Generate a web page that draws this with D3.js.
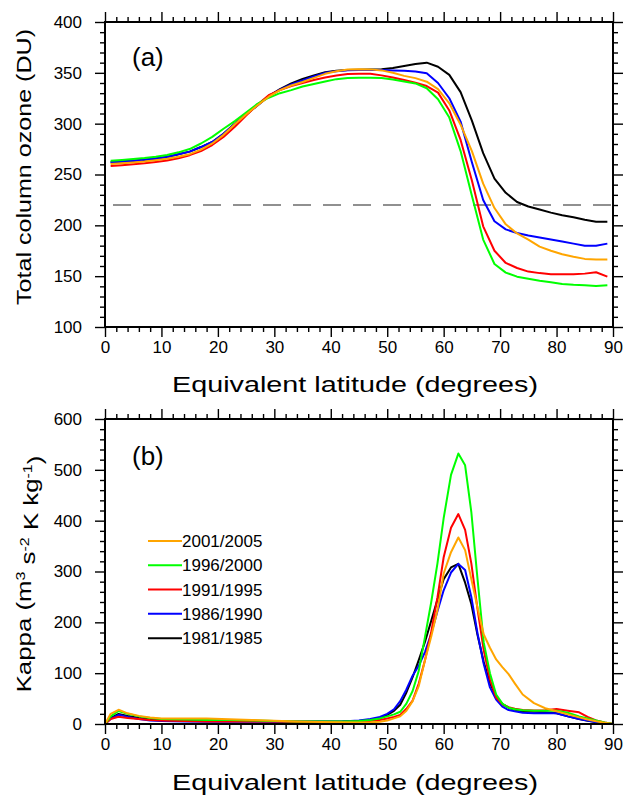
<!DOCTYPE html>
<html><head><meta charset="utf-8">
<script src="https://cdn.jsdelivr.net/npm/d3@7"></script>
<style>
body{margin:0;background:#fff}
svg{display:block}
text{font-family:"Liberation Sans",Arial,Helvetica,sans-serif;fill:#000}
</style>
</head><body>
<svg id="c" width="625" height="799"></svg>
<script>
// ---------- data ----------
const latA = [1,3,5,7,9,11,13,15,17,19,21,23,25,27,29,31,33,35,37,39,41,43,45,47,49,51,53,55,57,59,61,63,65,67,69,71,73,75,77,79,81,83,85,87,89];
const ozone1981 = [262,262.8,263.6,264.5,265.8,267.3,270,272.5,277,282,290,300,309,318,327,334,339.5,344,347.5,350.5,352,352.8,353,353.2,353.5,354.8,356.8,358.7,360,356,348,331,303,271,246,232,223,218.5,215.5,212.5,210,208,205.5,203.6,203.6];
const ozone1986 = [262,262.8,263.6,264.5,265.8,267.3,270,272.5,277,282,290,300,309,318,327,333.5,338.5,342.5,346.5,350,351.5,352.6,352.8,352.8,352.8,352.4,352,351.2,349.5,340,325,302,262,225,204,196,192.5,190,188,186,184,182,180,180,182];
const ozone1991 = [258.4,259.2,260,261,262.3,263.8,266,269,273,279,287,297,308,318.5,328,333,337,340,343,345.5,347.3,348.8,349,349,347.5,345.5,343,340.3,337,330.5,313,284,244,199,175,163,158,154.5,153,152,151.8,152,152.5,153.8,149.5];
const ozone1996 = [263.5,264.3,265.2,266.2,267.5,269.2,271.8,275,280.5,287,295,302.5,311,319.5,325.5,330,333,336.5,339,341.5,343.8,345,345.2,345.2,345,343.5,341.5,339.6,334.8,324,306,273,229,186,162,153.5,149.5,147.5,145.6,144,142.3,141.5,141,140.3,141];
const ozone2001 = [260.3,261,261.8,262.7,264,265.5,267.5,270,274.5,280.5,289,299.5,309,318,326.5,333,337.5,341,345,349,351.5,353.2,353.5,353.4,352.4,350,347,344.8,341.3,334,320,299,273,241,217,201,192,186,179,175,171.5,169,167,166.5,166.5];
const ozoneThreshold = 220;

const latB = [0,1,2.4,4,6,8,10,14,18,22,26,30,34,38,42,45,47,48.7,50,51.2,52.3,53.4,54.5,55.6,56.7,57.8,58.9,60.0,61.3,62.6,63.8,64.9,66.0,67.1,68.2,69.3,70.4,71.5,72.6,74,76,78,80,82,84,85.5,87,88.5,90];
const kappa2001 = [0,20,28,21,16,13,11,11,11,9.5,8,6.5,5,4,3.5,3,3.5,4.5,7,11,15,26,45,75,126,172,224,296,338,367,342,285,229,176,150,127,112,98,80,58,41,31,25,19,13,9,5.5,2.5,0];
const kappa1996 = [0,15,25.6,20,15,12,10,9,8,8,7,6,5,5,5,6,8,11,15,19,24,40,65,105,172,240,316,405,490,532,509,417,285,160,100,58,40,32,29,27,26,26,26,22,15,11,7,3,0];
const kappa1991 = [0,10,14.4,12,10,8,7,6,5,5,5,5,4,4,4,5,6,8,11,14,18,30,46,80,126,181,249,328,386,413,382,316,226,145,88,52,39,33,30,27.5,26.5,27,29.5,26,23,14,7,3,0];
const kappa1986 = [0,10,18,14,10,7,6,5,4.5,4.5,4.5,4.5,4.5,4.5,5,7,10,14,20,29,45,68,95,115,142,178,222,263,298,315,303,250,178,118,72,48,34,27.5,25,22,21,21,21,15,10,7,3.5,1.5,0];
const kappa1981 = [0,12,19.7,16,12,9,8,7,6,6,6,5,5,5,5,6,8,11,18,26,38,62,92,126,162,203,245,285,308,315,278,236,175,122,80,55,39,32,28,24.5,24,23,21,15,10,6.5,4,1.5,0];

const seriesNames = ["2001/2005","1996/2000","1991/1995","1986/1990","1981/1985"];
const seriesColors = ["#FFA500","#00FF00","#FF0000","#0000FF","#000000"];

const xTicks = [0,10,20,30,40,50,60,70,80,90];
const xMinor = [2,4,6,8,12,14,16,18,22,24,26,28,32,34,36,38,42,44,46,48,52,54,56,58,62,64,66,68,72,74,76,78,82,84,86,88];
const yTicksA = [100,150,200,250,300,350,400];
const yMinorA = [110,120,130,140,160,170,180,190,210,220,230,240,260,270,280,290,310,320,330,340,360,370,380,390];
const yTicksB = [0,100,200,300,400,500,600];
const yMinorB = [20,40,60,80,120,140,160,180,220,240,260,280,320,340,360,380,420,440,460,480,520,540,560,580];

// ---------- drawing ----------
const svg = d3.select("#c");
const L = 105, R = 613;
const x = d3.scaleLinear().domain([0,90]).range([L,R]);

function axes(y, top, bottom, yMaj, yMin) {
  const g = svg.append("g");
  const style = sel => { sel.select(".domain").remove(); sel.selectAll("line").attr("stroke","#000").attr("stroke-width",1.4); sel.selectAll("text").style("font-size","17px").style("font-family",'"Liberation Sans",Arial,sans-serif'); };
  g.append("g").attr("transform",`translate(0,${bottom})`).call(d3.axisBottom(x).tickValues(xTicks).tickSize(10).tickPadding(4).tickFormat(d3.format("d"))).call(style);
  g.append("g").attr("transform",`translate(0,${bottom})`).call(d3.axisBottom(x).tickValues(xMinor).tickSize(5).tickFormat("")).call(style);
  g.append("g").attr("transform",`translate(0,${top})`).call(d3.axisTop(x).tickValues(xTicks).tickSize(10).tickFormat("")).call(style);
  g.append("g").attr("transform",`translate(0,${top})`).call(d3.axisTop(x).tickValues(xMinor).tickSize(5).tickFormat("")).call(style);
  g.append("g").attr("transform",`translate(${L},0)`).call(d3.axisLeft(y).tickValues(yMaj).tickSize(10).tickPadding(13).tickFormat(d3.format("d"))).call(style);
  g.append("g").attr("transform",`translate(${L},0)`).call(d3.axisLeft(y).tickValues(yMin).tickSize(5).tickFormat("")).call(style);
  g.append("g").attr("transform",`translate(${R},0)`).call(d3.axisRight(y).tickValues(yMaj).tickSize(10).tickFormat("")).call(style);
  g.append("g").attr("transform",`translate(${R},0)`).call(d3.axisRight(y).tickValues(yMin).tickSize(5).tickFormat("")).call(style);
}

function frame(top,bottom){
  svg.append("rect").attr("x",L).attr("y",top).attr("width",R-L).attr("height",bottom-top)
    .attr("fill","none").attr("stroke","#000").attr("stroke-width",2);
}

function lines(lat, seriesList, y) {
  const line = d3.line().x((d,i)=>x(lat[i])).y(d=>y(d));
  [4,3,2,1,0].forEach(k=>{
    svg.append("path").datum(seriesList[k]).attr("d",line)
      .attr("fill","none").attr("stroke",seriesColors[k]).attr("stroke-width",2).attr("stroke-linejoin","round");
  });
}

// Panel (a)
const topA = 22, botA = 327;
const yA = d3.scaleLinear().domain([100,400]).range([botA,topA]);
svg.append("line").attr("x1",x(0)).attr("x2",x(90)).attr("y1",yA(ozoneThreshold)).attr("y2",yA(ozoneThreshold))
  .attr("stroke","#222").attr("stroke-width",1.1).attr("stroke-dasharray","18,12").attr("stroke-dashoffset",-8);
lines(latA,[ozone2001,ozone1996,ozone1991,ozone1986,ozone1981],yA);
frame(topA,botA);
axes(yA,topA,botA,yTicksA,yMinorA);
svg.append("text").attr("x",132).attr("y",66).style("font-size","26px").text("(a)");
svg.append("text").attr("x",355).attr("y",392).attr("text-anchor","middle").style("font-size","22px")
  .attr("textLength",366).attr("lengthAdjust","spacingAndGlyphs").text("Equivalent latitude (degrees)");
svg.append("text").attr("transform",`translate(31,167) rotate(-90)`).attr("text-anchor","middle").style("font-size","21px")
  .attr("textLength",276).attr("lengthAdjust","spacingAndGlyphs").text("Total column ozone (DU)");

// Panel (b)
const topB = 419, botB = 724;
const yB = d3.scaleLinear().domain([0,600]).range([botB,topB]);
lines(latB,[kappa2001,kappa1996,kappa1991,kappa1986,kappa1981],yB);
frame(topB,botB);
axes(yB,topB,botB,yTicksB,yMinorB);
svg.append("text").attr("x",132).attr("y",465).style("font-size","26px").text("(b)");
svg.append("text").attr("x",355).attr("y",790).attr("text-anchor","middle").style("font-size","22px")
  .attr("textLength",366).attr("lengthAdjust","spacingAndGlyphs").text("Equivalent latitude (degrees)");
const kt = svg.append("text").attr("transform",`translate(31,574) rotate(-90) scale(1.23,1)`).attr("text-anchor","middle").style("font-size","21px");
kt.append("tspan").text("Kappa (m");
kt.append("tspan").attr("dy","-0.45em").style("font-size","13px").text("3");
kt.append("tspan").attr("dy","0.45em").text(" s");
kt.append("tspan").attr("dy","-0.45em").style("font-size","13px").text("-2");
kt.append("tspan").attr("dy","0.45em").text(" K kg");
kt.append("tspan").attr("dy","-0.45em").style("font-size","13px").text("-1");
kt.append("tspan").attr("dy","0.45em").text(")");

// legend
const legY = [541,565.3,589.6,613.8,638.2];
seriesNames.forEach((n,i)=>{
  svg.append("line").attr("x1",148).attr("x2",182).attr("y1",legY[i]).attr("y2",legY[i])
    .attr("stroke",seriesColors[i]).attr("stroke-width",2);
  svg.append("text").attr("x",182).attr("y",legY[i]).attr("dy","0.36em").style("font-size","17px").text(n);
});
</script>
</body></html>
